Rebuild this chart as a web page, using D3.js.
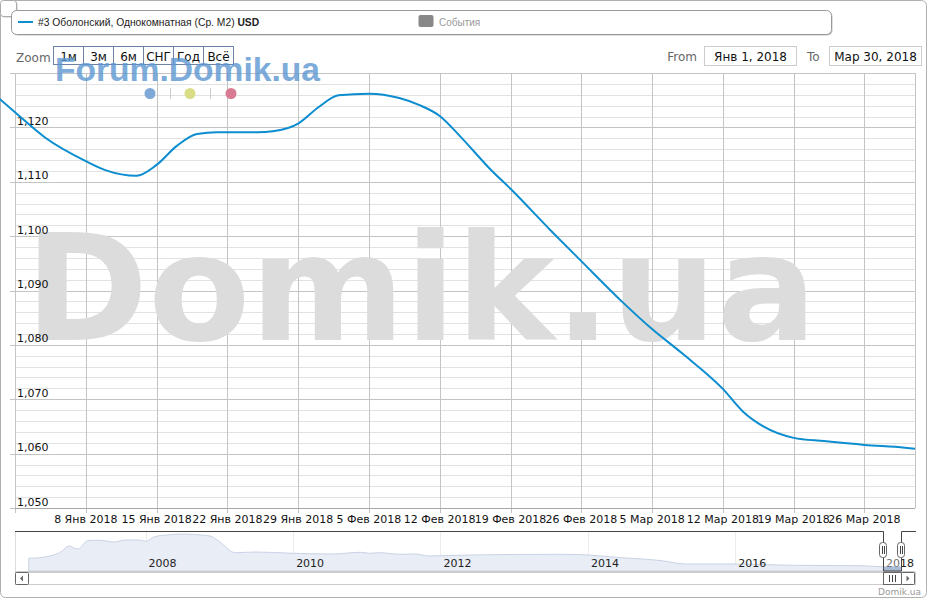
<!DOCTYPE html>
<html><head><meta charset="utf-8">
<script src="https://cdn.jsdelivr.net/npm/d3@7"></script>
<style>body{margin:0;background:#fff}svg{display:block}</style>
</head><body><svg id="c" width="931" height="600"></svg>
<script>
// ---- data ----
const seriesName = "#3 Оболонский, Однокомнатная (Ср. М2) ";
const seriesUnit = "USD";
const eventsName = "События";
const dates = ["2017-12-30","2018-01-01","2018-01-04","2018-01-08","2018-01-10","2018-01-13","2018-01-15","2018-01-17","2018-01-19","2018-01-21","2018-01-25","2018-01-28","2018-01-29","2018-01-31","2018-02-02","2018-02-05","2018-02-08","2018-02-10","2018-02-12","2018-02-14","2018-02-17","2018-02-19","2018-02-23","2018-02-26","2018-03-02","2018-03-05","2018-03-08","2018-03-12","2018-03-14","2018-03-16","2018-03-19","2018-03-22","2018-03-26","2018-03-30","2018-03-31"];
const values = [1126.0,1122.8,1118.1,1113.8,1112.1,1111.1,1113.1,1116.6,1118.8,1119.1,1119.1,1119.9,1120.7,1123.7,1125.9,1126.2,1125.4,1124.1,1122.1,1118.4,1112.3,1108.7,1101.0,1095.4,1088.0,1082.9,1078.4,1071.9,1067.7,1065.0,1062.9,1062.3,1061.6,1061.1,1060.9];
const yTicks = [1050,1060,1070,1080,1090,1100,1110,1120,1130];
const yTickLabels = ["1,050","1,060","1,070","1,080","1,090","1,100","1,110","1,120",""];
const xTickDates = ["2018-01-08","2018-01-15","2018-01-22","2018-01-29","2018-02-05","2018-02-12","2018-02-19","2018-02-26","2018-03-05","2018-03-12","2018-03-19","2018-03-26"];
const monthNames = ["Янв","Фев","Мар","Апр","Май","Июн","Июл","Авг","Сен","Окт","Ноя","Дек"];
const zoomButtons = ["1м","3м","6м","СНГ","Год","Всё"];
const fromLabel = "Янв 1, 2018", toLabel = "Мар 30, 2018";
const navDates = ["2006-06-01","2006-07-10","2006-11-01","2006-12-20","2007-01-15","2007-02-01","2007-03-20","2007-05-15","2007-08-01","2007-09-20","2007-12-01","2008-01-01","2008-02-15","2008-04-15","2008-06-20","2008-11-15","2009-01-01","2009-03-20","2009-07-01","2010-01-01","2010-07-15","2010-12-01","2011-01-15","2011-03-01","2011-06-15","2011-09-01","2011-11-01","2012-05-20","2013-08-15","2014-01-01","2014-05-20","2015-01-01","2015-05-01","2016-01-10","2016-10-15","2017-09-10","2018-01-01","2018-03-30"];
const navValues = [1426,1439,1667,1955,1856,1826,2183,2200,2127,2213,2213,2157,2355,2428,2471,2385,2140,1667,1697,1641,1611,1684,1641,1667,1598,1611,1525,1568,1598,1568,1469,1323,1181,1181,1125,1108,1065,1065];
const navYears = [2008,2010,2012,2014,2016,2018];

// ---- setup ----
const parse = d3.timeParse("%Y-%m-%d");
const svg = d3.select("#c");
const L = 15, R = 915, T = 73, B = 508;
const x = d3.scaleTime().domain([new Date(2018,0,1), new Date(2018,2,31)]).range([L, R]);
const y = d3.scaleLinear().domain([1050,1130]).range([B, T]);
const px = v => Math.round(v) + 0.5;

// outer frame
svg.append("rect").attr("x",0.5).attr("y",0.5).attr("width",926).attr("height",597).attr("rx",5)
  .attr("fill","#fff").attr("stroke","#b0b0b0");

// minor gridlines
const g = svg.append("g");
d3.range(1050,1131,2).filter(v => v % 10 !== 0).forEach(v => {
  g.append("line").attr("x1",L).attr("x2",R).attr("y1",px(y(v))).attr("y2",px(y(v))).attr("stroke","#e2e2e2");
});
// major y gridlines
yTicks.forEach(v => {
  g.append("line").attr("x1",L).attr("x2",R).attr("y1",px(y(v))).attr("y2",px(y(v))).attr("stroke","#c4c4c4");
  g.append("line").attr("x1",L-5).attr("x2",L).attr("y1",px(y(v))).attr("y2",px(y(v))).attr("stroke","#c4c4c4");
});
// vertical gridlines
xTickDates.map(parse).forEach(d => {
  g.append("line").attr("x1",px(x(d))).attr("x2",px(x(d))).attr("y1",T).attr("y2",B+5).attr("stroke","#c4c4c4");
});
g.append("line").attr("x1",px(L)).attr("x2",px(L)).attr("y1",T).attr("y2",B+5).attr("stroke","#c4c4c4");
g.append("line").attr("x1",px(R)).attr("x2",px(R)).attr("y1",T).attr("y2",B).attr("stroke","#c4c4c4");
g.append("line").attr("x1",L).attr("x2",R).attr("y1",px(B)).attr("y2",px(B)).attr("stroke","#a8a8a8");

// big watermark
svg.append("text").attr("x",25).attr("y",340).attr("font-family","DejaVu Sans").attr("font-weight","bold")
  .attr("font-size",148.5).attr("fill","#dcdcdc").text("Domik.ua");

// y labels
yTicks.forEach((v,i) => {
  if (!yTickLabels[i]) return;
  svg.append("text").attr("x",17).attr("y",y(v)-2.5).attr("font-family","DejaVu Sans").attr("font-size",11)
    .attr("fill","#111").text(yTickLabels[i]);
});
// x labels
xTickDates.map(parse).forEach(d => {
  svg.append("text").attr("x",x(d)).attr("y",523).attr("text-anchor","middle").attr("font-family","DejaVu Sans")
    .attr("font-size",11).attr("fill","#111").text(d.getDate()+" "+monthNames[d.getMonth()]+" "+d.getFullYear());
});

// line
const data = dates.map((d,i) => ({d: parse(d), v: values[i]}));
svg.append("path").datum(data).attr("fill","none").attr("stroke","#0b8dcf").attr("stroke-width",2)
  .attr("d", d3.line().x(p => x(p.d)).y(p => y(p.v)).curve(d3.curveMonotoneX));

// small top-left box
svg.append("rect").attr("x",1.5).attr("y",1.5).attr("width",16).attr("height",16).attr("rx",3).attr("fill","#ccc");
svg.append("rect").attr("x",0.5).attr("y",0.5).attr("width",16).attr("height",16).attr("rx",3).attr("fill","#fff").attr("stroke","#aaa");

// legend box
svg.append("rect").attr("x",12.5).attr("y",11.5).attr("width",820).attr("height",24).attr("rx",5).attr("fill","#999").attr("opacity",0.6);
svg.append("rect").attr("x",11.5).attr("y",10.5).attr("width",820).attr("height",24).attr("rx",5).attr("fill","#fff").attr("stroke","#999");
svg.append("line").attr("x1",18).attr("x2",33).attr("y1",22).attr("y2",22).attr("stroke","#0b8dcf").attr("stroke-width",2);
const lt = svg.append("text").attr("x",38).attr("y",25.5).attr("font-family","Liberation Sans").attr("font-size",10.3).attr("fill","#222");
lt.append("tspan").text(seriesName);
lt.append("tspan").attr("font-weight","bold").text(seriesUnit);
svg.append("rect").attr("x",418.5).attr("y",15).attr("width",15).attr("height",12).attr("rx",2).attr("fill","#888");
svg.append("text").attr("x",439).attr("y",25.5).attr("font-family","Liberation Sans").attr("font-size",10).attr("fill","#999").text(eventsName);

// zoom
svg.append("text").attr("x",16).attr("y",62).attr("font-family","DejaVu Sans").attr("font-size",12).attr("fill","#666").text("Zoom");
zoomButtons.forEach((b,i) => {
  const bx = 53.5 + i*30;
  svg.append("rect").attr("x",bx).attr("y",46.5).attr("width",30).attr("height",18).attr("fill","none").attr("stroke","#6f82a3");
  svg.append("text").attr("x",bx+15).attr("y",60.5).attr("text-anchor","middle").attr("font-family","DejaVu Sans").attr("font-size",12).attr("fill","#111").text(b);
});

// Forum watermark (semi-transparent overlay, as in the reference)
svg.append("text").attr("x",55).attr("y",81).attr("font-family","Liberation Sans").attr("font-weight","bold")
  .attr("font-size",33.6).attr("fill","#5d97d2").attr("opacity",0.8).text("Forum.Domik.ua");
// dots
const dotCols = ["#7ea8d8","#d9dd86","#d87a92"];
[150,190,231].forEach((cx,i) => svg.append("circle").attr("cx",cx).attr("cy",93.5).attr("r",5.5).attr("fill",dotCols[i]));
[170.5,210.5].forEach(cx => svg.append("line").attr("x1",cx).attr("x2",cx).attr("y1",88).attr("y2",99).attr("stroke","#ccc"));

// from / to
svg.append("text").attr("x",697).attr("y",61).attr("text-anchor","end").attr("font-family","DejaVu Sans").attr("font-size",12).attr("fill","#666").text("From");
svg.append("rect").attr("x",704.5).attr("y",46.5).attr("width",92).attr("height",19).attr("fill","#fff").attr("stroke","#ccc");
svg.append("text").attr("x",750.5).attr("y",61).attr("text-anchor","middle").attr("font-family","DejaVu Sans").attr("font-size",12).attr("fill","#111").text(fromLabel);
svg.append("text").attr("x",807).attr("y",61).attr("font-family","DejaVu Sans").attr("font-size",12).attr("fill","#666").text("To");
svg.append("rect").attr("x",829.5).attr("y",46.5).attr("width",92).attr("height",19).attr("fill","#fff").attr("stroke","#ccc");
svg.append("text").attr("x",875.5).attr("y",61).attr("text-anchor","middle").attr("font-family","DejaVu Sans").attr("font-size",12).attr("fill","#111").text(toLabel);

// ---- navigator ----
const NT = 531, NB = 571;
const nx = d3.scaleTime().domain([new Date(2006,2,25), new Date(2018,5,9)]).range([L, R]);
const ny = d3.scaleLinear().domain([880, 2600]).range([NB, NT]);
navYears.forEach(yr => {
  const xx = px(nx(new Date(yr,0,1)));
  svg.append("line").attr("x1",xx).attr("x2",xx).attr("y1",NT).attr("y2",NB).attr("stroke","#ececec");
});
const nd = navDates.map((d,i) => ({d: parse(d), v: navValues[i]}));
svg.append("path").datum(nd).attr("fill","#e9edf5").attr("stroke","#c9d3e6")
  .attr("d", d3.area().x(p => nx(p.d)).y0(NB).y1(p => ny(p.v)).curve(d3.curveMonotoneX));
navYears.forEach(yr => {
  svg.append("text").attr("x",nx(new Date(yr,0,1))+3).attr("y",567).attr("font-family","DejaVu Sans").attr("font-size",11)
    .attr("fill","#222").text(yr);
});
const h1 = nx(new Date(2018,0,1)), h2 = nx(new Date(2018,2,30));
svg.append("rect").attr("x",h1).attr("y",NT).attr("width",h2-h1).attr("height",NB-NT).attr("fill","rgba(255,255,255,0.35)");
svg.append("rect").attr("x",h1).attr("y",ny(1065)).attr("width",h2-h1).attr("height",NB-ny(1065)).attr("fill","#8aa4c8").attr("opacity",0.7);
svg.append("line").attr("x1",L).attr("x2",R).attr("y1",NB+0.5).attr("y2",NB+0.5).attr("stroke","#ccc");
svg.append("line").attr("x1",L+0.5).attr("x2",L+0.5).attr("y1",NT).attr("y2",NB).attr("stroke","#ddd");
svg.append("path").attr("fill","none").attr("stroke","#444")
  .attr("d",`M${L},${NT+0.5}H${px(h1)}V${NB}H${px(h2)}V${NT+0.5}H${R+1}`);
[h1,h2].forEach(hx => {
  const cx = Math.round(hx);
  svg.append("rect").attr("x",cx-3.5).attr("y",542.5).attr("width",7).attr("height",15).attr("rx",3).attr("fill","#fff").attr("stroke","#666");
  [cx-0.5,cx+1.5].forEach(lx => svg.append("line").attr("x1",lx).attr("x2",lx).attr("y1",546).attr("y2",554).attr("stroke","#444"));
});
// scrollbar
svg.append("rect").attr("x",L+0.5).attr("y",572.5).attr("width",R-L).attr("height",12).attr("fill","#fff").attr("stroke","#ccc");
svg.append("rect").attr("x",L+0.5).attr("y",572.5).attr("width",13).attr("height",12).attr("rx",1).attr("fill","#fff").attr("stroke","#666");
svg.append("path").attr("d","M23,575.5L20,578.5L23,581.5Z").attr("fill","#666");
svg.append("rect").attr("x",px(h1)).attr("y",572.5).attr("width",Math.round(h2-h1)).attr("height",12).attr("fill","#fff").attr("stroke","#666");
const mid = Math.round((h1+h2)/2);
[mid-3,mid-0,mid+3].forEach(lx => svg.append("line").attr("x1",lx+0.5).attr("x2",lx+0.5).attr("y1",575).attr("y2",582).attr("stroke","#444"));
svg.append("rect").attr("x",px(h2)).attr("y",572.5).attr("width",13).attr("height",12).attr("rx",1).attr("fill","#fff").attr("stroke","#666");
svg.append("path").attr("d",`M${px(h2)+5},575.5L${px(h2)+8},578.5L${px(h2)+5},581.5Z`).attr("fill","#666");

// credit
svg.append("text").attr("x",921).attr("y",595).attr("text-anchor","end").attr("font-family","DejaVu Sans").attr("font-size",9)
  .attr("fill","#999").text("Domik.ua");
</script></body></html>
